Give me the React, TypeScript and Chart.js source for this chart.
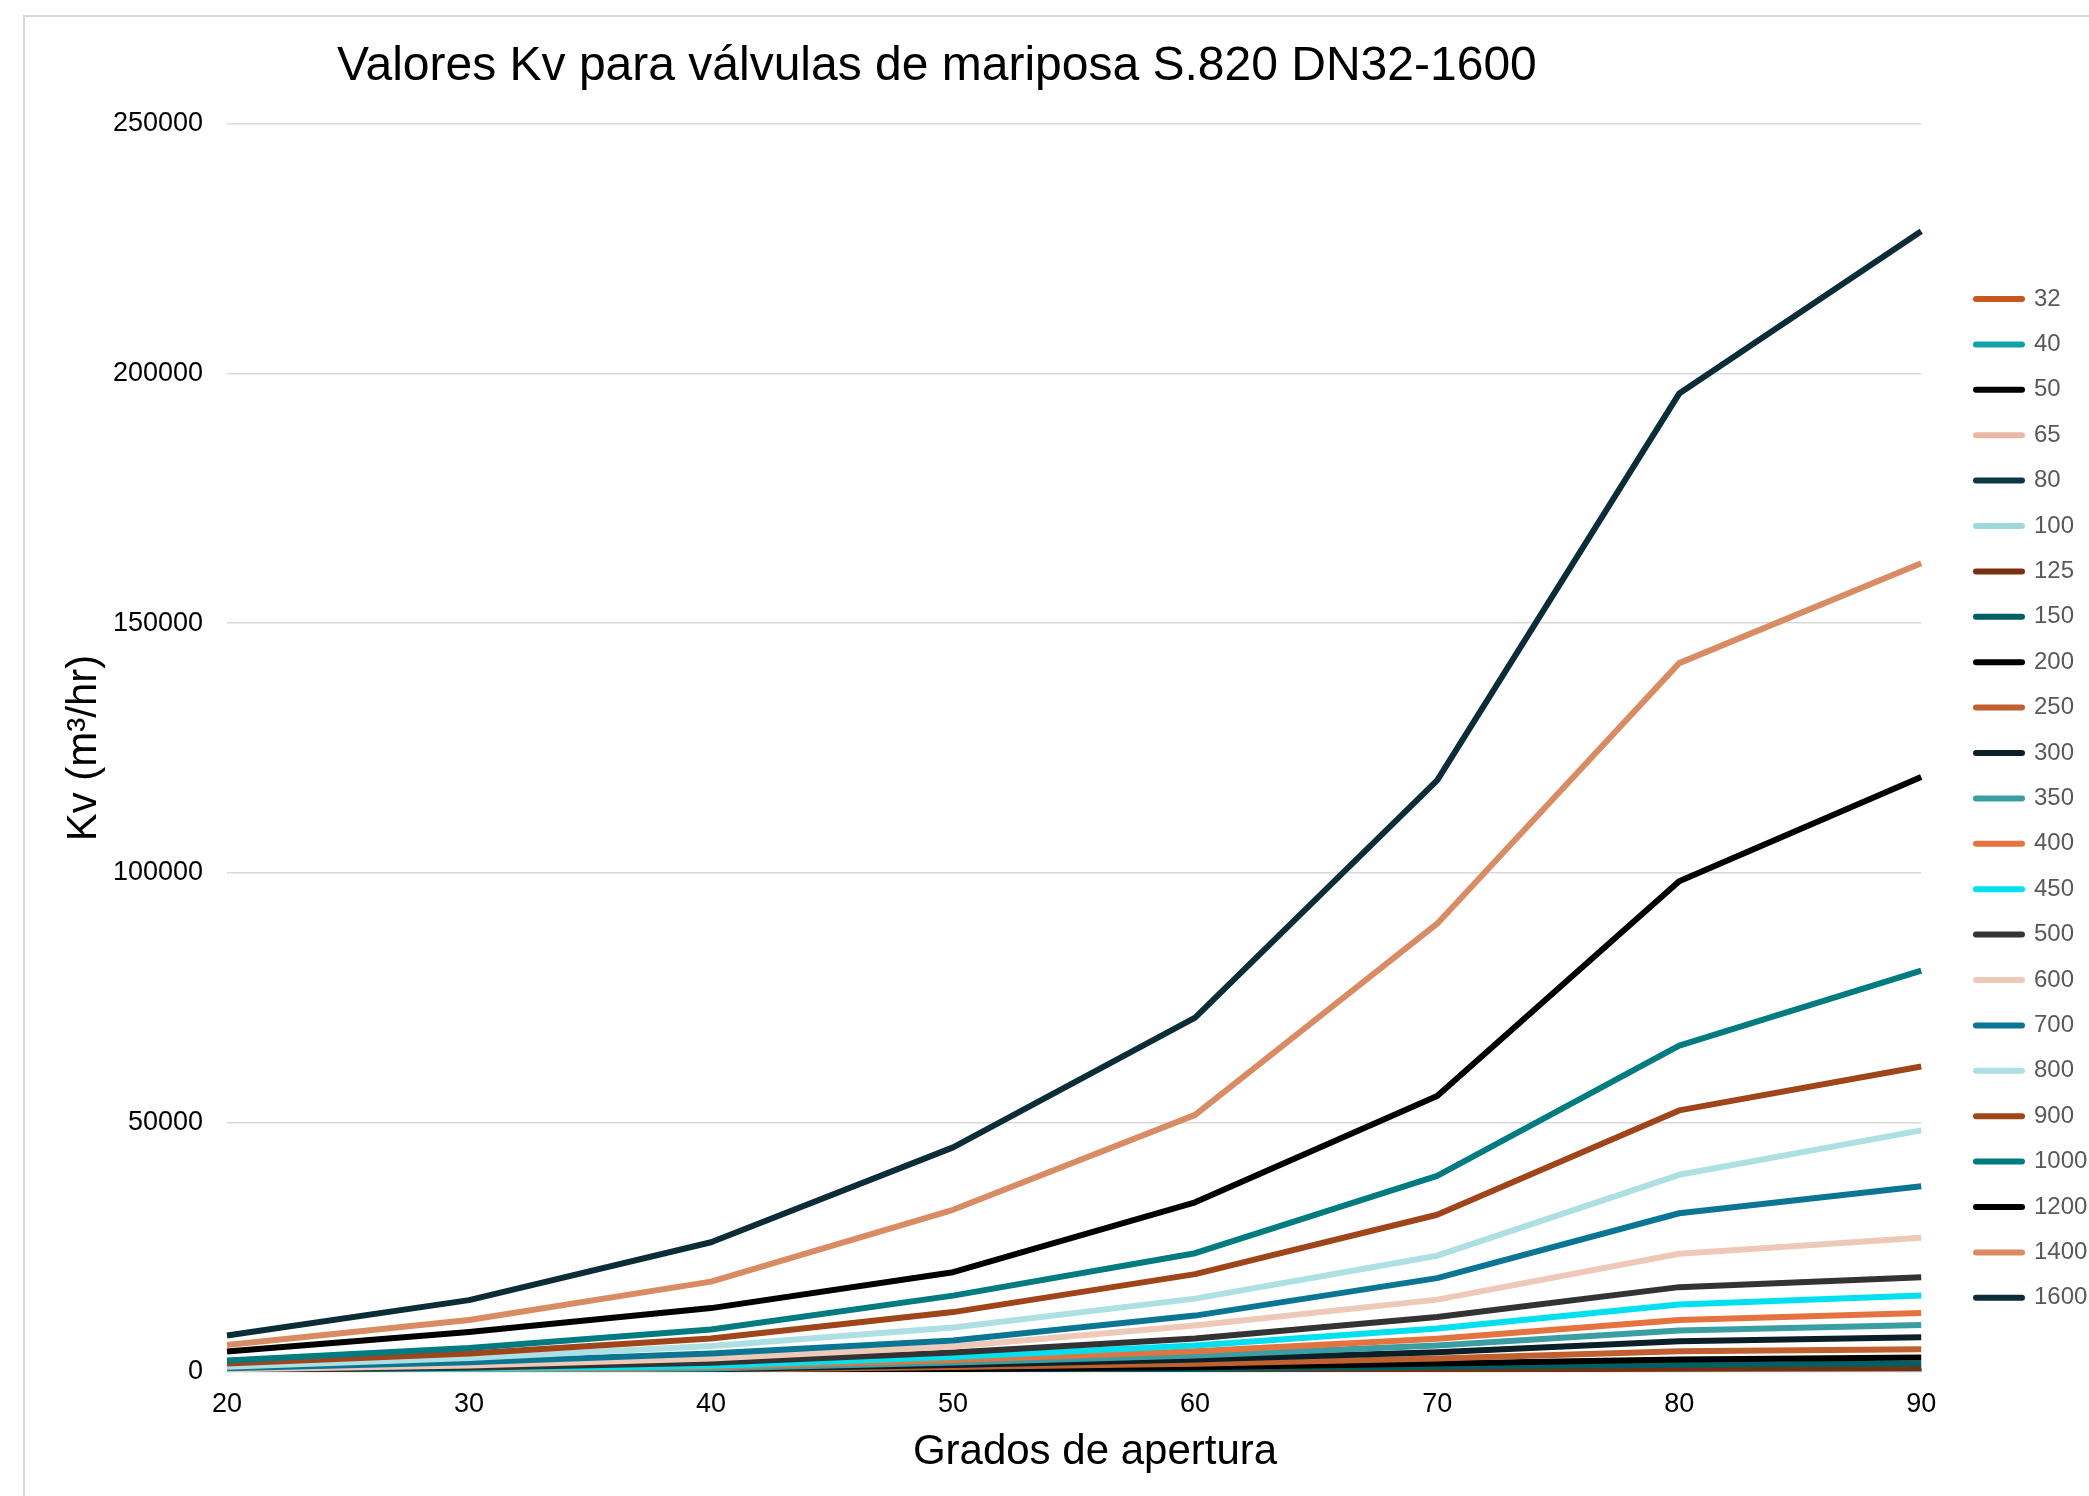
import React, { useEffect, useRef } from 'react';
import { Chart, registerables } from 'chart.js';

Chart.register(...registerables);

const FONT = "'Liberation Sans', Arial, sans-serif";

const categories = ['20', '30', '40', '50', '60', '70', '80', '90'];

const seriesNames = ['32', '40', '50', '65', '80', '100', '125', '150', '200', '250', '300', '350', '400', '450', '500', '600', '700', '800', '900', '1000', '1200', '1400', '1600'];

const v32 = [1.5, 4, 7, 13, 21, 32, 42, 47];
const v40 = [2, 6, 11, 20, 33, 50, 66, 74];
const v50 = [4, 10, 18, 32, 52, 80, 104, 115];
const v65 = [6, 16, 30, 52, 85, 130, 170, 190];
const v80 = [10, 25, 45, 80, 130, 200, 260, 290];
const v100 = [15, 40, 70, 120, 200, 310, 400, 440];
const v125 = [25, 60, 110, 200, 330, 520, 650, 760];
const v150 = [35, 90, 170, 350, 600, 1040, 1440, 1680];
const v200 = [50, 130, 260, 600, 960, 1700, 2500, 2880];
const v250 = [80, 200, 400, 1000, 1650, 2700, 4150, 4550];
const v300 = [110, 280, 550, 1400, 2500, 3950, 6150, 6950];
const v350 = [150, 350, 700, 1900, 3300, 5300, 8300, 9400];
const v400 = [200, 500, 1000, 2400, 4150, 6650, 10400, 11800];
const v450 = [250, 650, 1200, 3000, 5300, 8700, 13500, 15300];
const v500 = [350, 850, 1850, 3900, 6700, 11000, 17000, 19000];
const v600 = [520, 1300, 2700, 5100, 9300, 14500, 23700, 26900];
const v700 = [760, 1950, 3700, 6300, 11300, 18800, 31800, 37200];
const v800 = [1050, 2800, 5200, 8900, 14700, 23300, 39500, 48400];
const v900 = [1700, 3700, 6700, 12000, 19600, 31500, 52400, 61200];
const v1000 = [2300, 4800, 8500, 15300, 23800, 39300, 65400, 80400];
const v1200 = [4100, 8000, 12800, 20000, 34000, 55300, 98300, 119200];
const v1400 = [5400, 10400, 18100, 32500, 51500, 89800, 142000, 162000];
const v1600 = [7300, 14400, 26000, 45000, 71000, 118500, 196000, 228500];

const seriesValues = [v32, v40, v50, v65, v80, v100, v125, v150, v200, v250, v300, v350, v400, v450, v500, v600, v700, v800, v900, v1000, v1200, v1400, v1600];

const seriesColors = ['#c8561f', '#0fa3a8', '#000000', '#e8b9a5', '#0b3a45', '#9fd9dc', '#7a3010', '#005f62', '#000000', '#c0602f', '#0a1f28', '#3b9ea3', '#e5733f', '#00e0ee', '#333333', '#efc9b7', '#0a7694', '#ade0e3', '#a0451a', '#007b7f', '#000000', '#d98b63', '#0b2d38'];

const yTickValues = [0, 50000, 100000, 150000, 200000, 250000];

const chartTitle = 'Valores Kv para válvulas de mariposa S.820 DN32-1600';
const xTitle = 'Grados de apertura';
const yTitle = 'Kv (m³/hr)';

const framePlugin = {
  id: 'framePlugin',
  afterLayout(chart: any) {
    const lg = chart.legend;
    if (lg) {
      const w = lg.width;
      lg.left = 1954.6;
      lg.right = 1954.6 + w;
      lg.top = 265.6;
    }
  },
  beforeDraw(chart: any) {
    const ctx = chart.ctx;
    ctx.save();
    ctx.strokeStyle = '#d9d9d9';
    ctx.lineWidth = 2;
    ctx.beginPath();
    ctx.moveTo(24, chart.height);
    ctx.lineTo(24, 16);
    ctx.lineTo(chart.width, 16);
    ctx.stroke();
    ctx.restore();
  },
  afterDraw(chart: any) {
    const ctx = chart.ctx;
    ctx.save();
    ctx.fillStyle = '#000000';
    ctx.font = `48px ${FONT}`;
    ctx.textAlign = 'left';
    ctx.textBaseline = 'alphabetic';
    ctx.fillText(chartTitle, 337, 80);
    ctx.font = `42px ${FONT}`;
    ctx.textAlign = 'center';
    ctx.textBaseline = 'middle';
    ctx.fillText(xTitle, 1095, 1452);
    ctx.restore();
  },
};

export default function App() {
  const ref = useRef<HTMLCanvasElement | null>(null);

  useEffect(() => {
    if (!ref.current) return;
    const n = seriesNames.length;
    const chart = new Chart(ref.current, {
      type: 'line',
      data: {
        labels: categories,
        datasets: seriesNames.map((name, i) => ({
          label: name,
          data: seriesValues[i],
          borderColor: seriesColors[i],
          backgroundColor: seriesColors[i],
          borderWidth: 6,
          pointRadius: 0,
          tension: 0,
          borderJoinStyle: 'round',
          order: n - i,
          fill: false,
        })),
      },
      options: {
        animation: false,
        responsive: false,
        devicePixelRatio: 1,
        layout: { padding: { top: 124, left: 0, right: 25, bottom: 0 } },
        plugins: {
          title: { display: false },
          tooltip: { enabled: false },
          legend: {
            position: 'right',
            align: 'start',
            labels: {
              usePointStyle: true,
              pointStyle: 'line',
              pointStyleWidth: 46,
              color: '#595959',
              font: { size: 24, family: FONT },
              padding: 21.4,
              sort: (a: any, b: any) => a.datasetIndex - b.datasetIndex,
              generateLabels: (c: any) =>
                (Chart.defaults.plugins.legend.labels as any)
                  .generateLabels(c)
                  .map((l: any) => ({ ...l, lineCap: 'round' })),
            },
          },
        },
        scales: {
          x: {
            grid: { display: false, drawTicks: false },
            border: { display: false },
            ticks: {
              color: '#000000',
              font: { size: 27, family: FONT },
              padding: 16,
              maxRotation: 0,
              autoSkip: false,
            },
            title: { display: false, text: xTitle },
            afterFit: (s: any) => {
              s.height = 124;
            },
          },
          y: {
            min: 0,
            max: 250000,
            afterBuildTicks: (s: any) => {
              s.ticks = yTickValues.map((v) => ({ value: v }));
            },
            ticks: {
              stepSize: 50000,
              callback: (v: any) => String(v),
              color: '#000000',
              font: { size: 27, family: FONT },
              padding: 24,
            },
            grid: { color: '#d9d9d9', lineWidth: 1.5, drawTicks: false },
            border: { display: false },
            title: {
              display: true,
              text: yTitle,
              color: '#000000',
              font: { size: 42, family: FONT, lineHeight: 1 },
              padding: { top: 63, bottom: 0 },
            },
            afterFit: (s: any) => {
              s.width = 227;
            },
          },
        },
      } as any,
      plugins: [framePlugin],
    });
    return () => chart.destroy();
  }, []);

  return (
    <div style={{ position: 'absolute', left: 0, top: 0, width: 2089, height: 1496, background: '#ffffff' }}>
      <canvas ref={ref} width={2089} height={1496} style={{ display: 'block', width: 2089, height: 1496 }} />
    </div>
  );
}
